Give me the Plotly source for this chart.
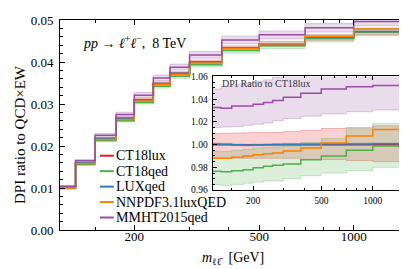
import numpy as np
import plotly.graph_objects as go

# ---------------- data ----------------
edges = [116, 130, 150, 175, 200, 230, 260, 300, 380, 500, 700, 1000, 1500]

# DPI ratio to QCDxEW for the reference PDF (CT18lux)
ct18lux_dpi = [0.0101, 0.0160, 0.0218, 0.0266, 0.0310, 0.0349, 0.0373, 0.0400, 0.0433, 0.0443, 0.0458, 0.0472]

# ratios to CT18lux (central, upper, lower)
ct18lux_c = [1.0, 1.0, 1.0, 1.0, 1.0, 1.0, 1.0, 1.0, 1.0, 1.0, 1.0, 1.0]
ct18lux_hi = [1.0098, 1.0100, 1.0102, 1.0104, 1.0106, 1.0106, 1.0107, 1.0115, 1.0127, 1.0142, 1.0150, 1.0166]
ct18lux_lo = [0.9880, 0.9880, 0.9880, 0.9880, 0.9880, 0.9880, 0.9880, 0.9880, 0.9870, 0.9870, 0.9860, 0.9850]

ct18qed_c = [0.9765, 0.9762, 0.9770, 0.9780, 0.9796, 0.9810, 0.9818, 0.9830, 0.9867, 0.9900, 0.9950, 0.9988]
ct18qed_hi = [0.9940, 0.9940, 0.9950, 0.9960, 0.9970, 0.9975, 0.9980, 0.9988, 1.0018, 1.0053, 1.0140, 1.0187]
ct18qed_lo = [0.9650, 0.9640, 0.9650, 0.9660, 0.9670, 0.9680, 0.9680, 0.9700, 0.9727, 0.9750, 0.9770, 0.9800]

luxqed_c = [1.0005, 1.0003, 0.9998, 0.9996, 0.9998, 1.0000, 1.0002, 1.0003, 1.0004, 1.0005, 1.0006, 1.0007]
luxqed_hi = [1.0013, 1.0011, 1.0006, 1.0004, 1.0006, 1.0008, 1.0010, 1.0011, 1.0012, 1.0013, 1.0014, 1.0015]
luxqed_lo = [0.9997, 0.9995, 0.9990, 0.9988, 0.9990, 0.9992, 0.9994, 0.9995, 0.9996, 0.9997, 0.9998, 0.9999]

nnpdf_c = [0.9880, 0.9880, 0.9890, 0.9900, 0.9910, 0.9920, 0.9926, 0.9944, 0.9970, 1.0015, 1.0077, 1.0133]

mmht_c = [1.0326, 1.0320, 1.0340, 1.0340, 1.0356, 1.0370, 1.0388, 1.0418, 1.0453, 1.0490, 1.0510, 1.0520]
mmht_hi = [1.0490, 1.0513, 1.0527, 1.0540, 1.0555, 1.0570, 1.0590, 1.0620, 1.0660, 1.0700, 1.0730, 1.0750]
mmht_lo = [1.0150, 1.0155, 1.0160, 1.0170, 1.0180, 1.0190, 1.0210, 1.0230, 1.0250, 1.0270, 1.0290, 1.0305]

series_names = ["CT18lux", "CT18qed", "LUXqed", "NNPDF3.1luxQED", "MMHT2015qed"]
colors = ["#e41a1c", "#4daf4a", "#377eb8", "#ff7f00", "#984ea3"]
fills = ["rgba(228,26,28,0.20)", "rgba(77,175,74,0.20)", "rgba(55,126,184,0.25)", None, "rgba(152,78,163,0.20)"]
edgecols = ["rgba(228,26,28,0.35)", "rgba(77,175,74,0.35)", "rgba(55,126,184,0.35)", None, "rgba(152,78,163,0.35)"]

centrals = [ct18lux_c, ct18qed_c, luxqed_c, nnpdf_c, mmht_c]
uppers = [ct18lux_hi, ct18qed_hi, luxqed_hi, None, mmht_hi]
lowers = [ct18lux_lo, ct18qed_lo, luxqed_lo, None, mmht_lo]

FONT = "Liberation Serif"


def stairs(v):
    return list(v) + [v[-1]]


def scaled(r):
    return [a * b for a, b in zip(ct18lux_dpi, r)]


fig = go.Figure()

# bands and central lines, main panel and inset
for xa, ya, conv in [("x", "y", scaled), ("x2", "y2", lambda r: list(r))]:
    for i in range(5):
        if uppers[i] is None:
            continue
        fig.add_trace(go.Scatter(x=edges, y=stairs(conv(lowers[i])), mode="lines",
                                 line=dict(shape="hv", width=0.8, color=edgecols[i]),
                                 xaxis=xa, yaxis=ya, showlegend=False, hoverinfo="skip"))
        fig.add_trace(go.Scatter(x=edges, y=stairs(conv(uppers[i])), mode="lines",
                                 line=dict(shape="hv", width=0.8, color=edgecols[i]),
                                 fill="tonexty", fillcolor=fills[i],
                                 xaxis=xa, yaxis=ya, showlegend=False, hoverinfo="skip"))
    for i in range(5):
        fig.add_trace(go.Scatter(x=edges, y=stairs(conv(centrals[i])), mode="lines",
                                 line=dict(shape="hv", width=1.5, color=colors[i]),
                                 xaxis=xa, yaxis=ya, showlegend=False, name=series_names[i]))

# geometry helpers (paper coordinates)
L, R, T, B = 52, 5, 10, 47
W, H = 407, 269
PW, PH = W - L - R, H - T - B


def px(xp):
    return (xp - L) / PW


def py(yp):
    return (T + PH - yp) / PH


tickfont = dict(family=FONT, size=13, color="black")
smallfont = dict(family=FONT, size=9.5, color="black")

xmin, xmax = np.log10(edges[0]), np.log10(edges[-1])
xmajor = [200, 500, 1000]
xminor = [150, 300, 400, 600, 700, 800, 900]

common_x = dict(type="log", range=[xmin, xmax], tickmode="array", tickvals=xmajor,
                ticktext=[str(v) for v in xmajor], ticks="inside", tickcolor="black",
                showline=True, linecolor="black", linewidth=1, mirror="allticks",
                showgrid=False, zeroline=False)

fig.update_layout(
    width=W, height=H,
    margin=dict(l=L, r=R, t=T, b=B),
    paper_bgcolor="white", plot_bgcolor="white",
    showlegend=False,
    xaxis=dict(**common_x, domain=[0, 1], anchor="y", ticklen=5, tickfont=tickfont,
               ticklabelstandoff=-6,
               minor=dict(tickmode="array", tickvals=xminor, ticks="inside", ticklen=3, tickcolor="black")),
    yaxis=dict(range=[0, 0.05], tickmode="array", tickvals=[0, 0.01, 0.02, 0.03, 0.04, 0.05],
               tickformat=".2f", ticks="inside", ticklen=5, tickcolor="black", tickfont=tickfont,
               showline=True, linecolor="black", linewidth=1, mirror="allticks",
               showgrid=False, zeroline=False, domain=[0, 1], anchor="x", ticklabelstandoff=3,
               minor=dict(dtick=0.002, ticks="inside", ticklen=3, tickcolor="black")),
    xaxis2=dict(**common_x, domain=[px(205), px(396)], anchor="y2", ticklen=4, tickfont=smallfont,
                ticklabelstandoff=2,
                minor=dict(tickmode="array", tickvals=xminor, ticks="inside", ticklen=2, tickcolor="black")),
    yaxis2=dict(range=[0.96, 1.06], tickmode="array", tickvals=[0.96, 0.98, 1.00, 1.02, 1.04, 1.06],
                tickformat=".2f", ticks="inside", ticklen=4, tickcolor="black", tickfont=smallfont,
                showline=True, linecolor="black", linewidth=1, mirror="allticks",
                showgrid=False, zeroline=False, domain=[py(181.7), py(67)], anchor="x2",
                ticklabelstandoff=2,
                minor=dict(dtick=0.005, ticks="inside", ticklen=2, tickcolor="black")),
)

annotations = [
    dict(text="DPI ratio to QCD×EW", x=px(12), y=py(126), xref="paper", yref="paper",
         textangle=-90, showarrow=False, font=dict(family=FONT, size=15, color="black"),
         xanchor="center", yanchor="middle"),
    dict(text="<i>m</i><sub>ℓℓ̄</sub>  [GeV]", x=px(225), y=py(251), xref="paper", yref="paper",
         showarrow=False, xanchor="center", yanchor="middle",
         font=dict(family=FONT, size=14, color="black")),
    dict(text="<i>pp</i> → <i>ℓ</i><sup>+</sup><i>ℓ</i><sup>−</sup>,  8 TeV", x=px(73), y=py(32),
         xref="paper", yref="paper", showarrow=False, xanchor="left", yanchor="middle",
         font=dict(family=FONT, size=14, color="black")),
    dict(text="DPI Ratio to CT18lux", x=px(212), y=py(74), xref="paper", yref="paper",
         showarrow=False, xanchor="left", yanchor="middle",
         font=dict(family=FONT, size=10, color="#333333")),
]

shapes = []
legend_rows = [147, 162.6, 178.2, 193.8, 209.4]
for i, name in enumerate(series_names):
    yy = py(legend_rows[i])
    shapes.append(dict(type="line", xref="paper", yref="paper", x0=px(92), x1=px(106), y0=yy, y1=yy,
                       line=dict(color=colors[i], width=2)))
    annotations.append(dict(text=name, x=px(106.5), y=yy, xref="paper", yref="paper", showarrow=False,
                            xanchor="left", yanchor="middle",
                            font=dict(family=FONT, size=14, color="black")))

fig.update_layout(annotations=annotations, shapes=shapes)

fig.write_html("out.html")
